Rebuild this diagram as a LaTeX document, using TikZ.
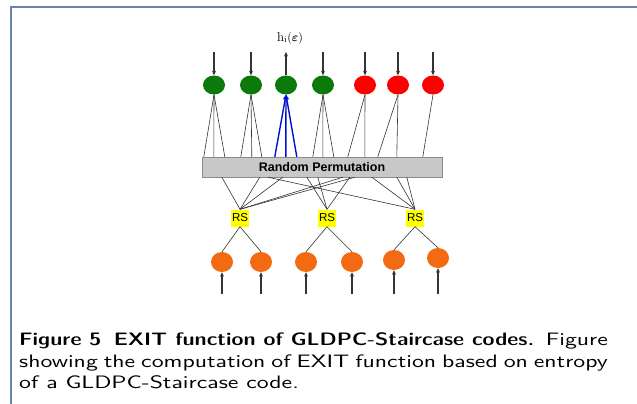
\documentclass[tikz,border=0pt]{standalone}
\usepackage{amsmath,amssymb}
\usepackage{graphicx}
\usepackage{fontspec}
\usetikzlibrary{shapes.geometric,arrows.meta}
\newfontfamily\arialf{Liberation Sans}
\newfontfamily\capreg{lmsans10-regular.otf}
\newfontfamily\capbold{lmsansdemicond10-regular.otf}
\definecolor{framec}{HTML}{6585AA}
\definecolor{gfill}{HTML}{0B7A0B}
\definecolor{rfill}{HTML}{FF0000}
\definecolor{ofill}{HTML}{F26A12}
\definecolor{linec}{HTML}{333333}
\definecolor{permfill}{HTML}{C8C8C8}
\definecolor{permdraw}{HTML}{8A8A8A}
\definecolor{rsfill}{HTML}{FFFF00}
\definecolor{bluec}{HTML}{0010D0}
\newcommand{\capline}[1]{\scalebox{1.32}[1]{#1}}
\newcommand{\capjust}[1]{\capline{\makebox[446pt][s]{#1}}}
\begin{document}
\begin{tikzpicture}[x=1pt,y=-1pt,
  vnode/.style={ellipse,minimum width=22pt,minimum height=19pt,inner sep=0pt,draw=none},
  gnode/.style={vnode,fill=gfill},
  rnode/.style={vnode,fill=rfill},
  onode/.style={ellipse,minimum width=22pt,minimum height=20pt,inner sep=0pt,fill=ofill},
  permbox/.style={rectangle,draw=permdraw,fill=permfill,minimum width=240pt,minimum height=20pt,inner sep=0pt,font=\arialf\bfseries\fontsize{12.5}{14}\selectfont},
  rsbox/.style={rectangle,fill=rsfill,minimum width=18pt,minimum height=17pt,inner sep=0pt,font=\arialf\fontsize{11.5}{13}\selectfont},
  edge/.style={draw=linec,line width=0.6pt},
  arr/.style={draw=linec,line width=1.1pt,-{Stealth[length=4.5pt,width=4pt]}},
  barr/.style={draw=bluec,line width=1.4pt,-{Stealth[length=5pt,width=4.5pt]}},
  captext/.style={anchor=base west,inner sep=0pt,font=\capreg\fontsize{18}{21}\selectfont}
]
\useasboundingbox (0,0) rectangle (637,404);
\draw[framec,line width=1.5pt] (11,404) -- (11,7) -- (637,7);

% top variable nodes
\node[gnode] (g1) at (214,85) {};
\node[gnode] (g2) at (251,85) {};
\node[gnode] (g3) at (286,85) {};
\node[gnode] (g4) at (323,85) {};
\node[rnode] (r1) at (365,85) {};
\node[rnode] (r2) at (398,85) {};
\node[rnode] (r3) at (433,85) {};

% input arrows
\coordinate (t1) at (214,52);
\coordinate (t2) at (251,52);
\coordinate (t4) at (323,52);
\coordinate (t5) at (365,52);
\coordinate (t6) at (398,52);
\coordinate (t7) at (433,52);
\draw[arr] (t1) -- (g1.north);
\draw[arr] (t2) -- (g2.north);
\draw[arr] (t4) -- (g4.north);
\draw[arr] (t5) -- (r1.north);
\draw[arr] (t6) -- (r2.north);
\draw[arr] (t7) -- (r3.north);
\coordinate (hout) at (286,52);
\draw[arr] (g3.north) -- (hout);
\node[font=\fontsize{13}{15}\selectfont] (hlab) at (290,38) {$\mathrm{h}_{\mathrm{i}}(\boldsymbol{\varepsilon})$};

% permutation
\node[permbox] (perm) at (322,167) {Random Permutation};

% top edges
\draw[edge] (g1.south) -- ([xshift=2pt]perm.north west);
\draw[edge] (g1.south) -- ([xshift=12pt]perm.north west);
\draw[edge] (g1.south) -- ([xshift=23pt]perm.north west);
\draw[edge] (g2.south) -- ([xshift=39pt]perm.north west);
\draw[edge] (g2.south) -- ([xshift=50pt]perm.north west);
\draw[edge] (g2.south) -- ([xshift=60pt]perm.north west);
\draw[barr] ([xshift=73pt]perm.north west) -- (g3.south);
\draw[barr] ([xshift=84pt]perm.north west) -- (g3.south);
\draw[barr] ([xshift=95pt]perm.north west) -- (g3.south);
\draw[edge] (g4.south) -- ([xshift=111pt]perm.north west);
\draw[edge] (g4.south) -- ([xshift=121pt]perm.north west);
\draw[edge] (g4.south) -- ([xshift=132pt]perm.north west);
\draw[edge] (r1.south) -- ([xshift=146pt]perm.north west);
\draw[edge] (r1.south) -- ([xshift=163pt]perm.north west);
\draw[edge] (r2.south) -- ([xshift=176pt]perm.north west);
\draw[edge] (r2.south) -- ([xshift=195pt]perm.north west);
\draw[edge] (r3.south) -- ([xshift=221pt]perm.north west);

% RS nodes
\node[rsbox] (rs1) at (240,218) {RS};
\node[rsbox] (rs2) at (327,218) {RS};
\node[rsbox] (rs3) at (415,218) {RS};

% bottom edges of permutation
\draw[edge] ([xshift=20pt]perm.south west) -- (rs1.north);
\draw[edge] ([xshift=58pt]perm.south west) -- (rs1.north);
\draw[edge] ([xshift=81pt]perm.south west) -- (rs1.north);
\draw[edge] ([xshift=141pt]perm.south west) -- (rs1.north);
\draw[edge] ([xshift=153pt]perm.south west) -- (rs1.north);
\draw[edge] ([xshift=105pt]perm.south west) -- (rs2.north);
\draw[edge] ([xshift=116pt]perm.south west) -- (rs2.north);
\draw[edge] ([xshift=148pt]perm.south west) -- (rs2.north);
\draw[edge] ([xshift=66pt]perm.south west) -- (rs3.north);
\draw[edge] ([xshift=170pt]perm.south west) -- (rs3.north);
\draw[edge] ([xshift=195pt]perm.south west) -- (rs3.north);
\draw[edge] ([xshift=205pt]perm.south west) -- (rs3.north);

% bottom nodes
\node[onode] (o1) at (222,262) {};
\node[onode] (o2) at (261,262) {};
\node[onode] (o3) at (306,262) {};
\node[onode] (o4) at (352,262) {};
\node[onode] (o5) at (394,260) {};
\node[onode] (o6) at (438,258) {};
\draw[edge] (rs1.south) -- (o1.north);
\draw[edge] (rs1.south) -- (o2.north);
\draw[edge] (rs2.south) -- (o3.north);
\draw[edge] (rs2.south) -- (o4.north);
\draw[edge] (rs3.south) -- (o5.north);
\draw[edge] (rs3.south) -- (o6.north);

\coordinate (b1) at (222,294);
\coordinate (b2) at (261,294);
\coordinate (b3) at (306,294);
\coordinate (b4) at (352,294);
\coordinate (b5) at (394,294);
\coordinate (b6) at (438,294);
\draw[arr] (b1) -- (o1.south);
\draw[arr] (b2) -- (o2.south);
\draw[arr] (b3) -- (o3.south);
\draw[arr] (b4) -- (o4.south);
\draw[arr] (b5) -- (o5.south);
\draw[arr] (b6) -- (o6.south);

% caption
\node[captext] (cap1) at (19,345.7) {\capjust{\scalebox{1.056}[1]{\capbold Figure 5\hspace{0.5em}EXIT function of GLDPC-Staircase codes.} Figure}};
\node[captext] (cap2) at (19,367.7) {\capjust{showing the computation of EXIT function based on entropy}};
\node[captext] (cap3) at (19,388.3) {\capline{of a GLDPC-Staircase code.}};
\end{tikzpicture}
\end{document}
